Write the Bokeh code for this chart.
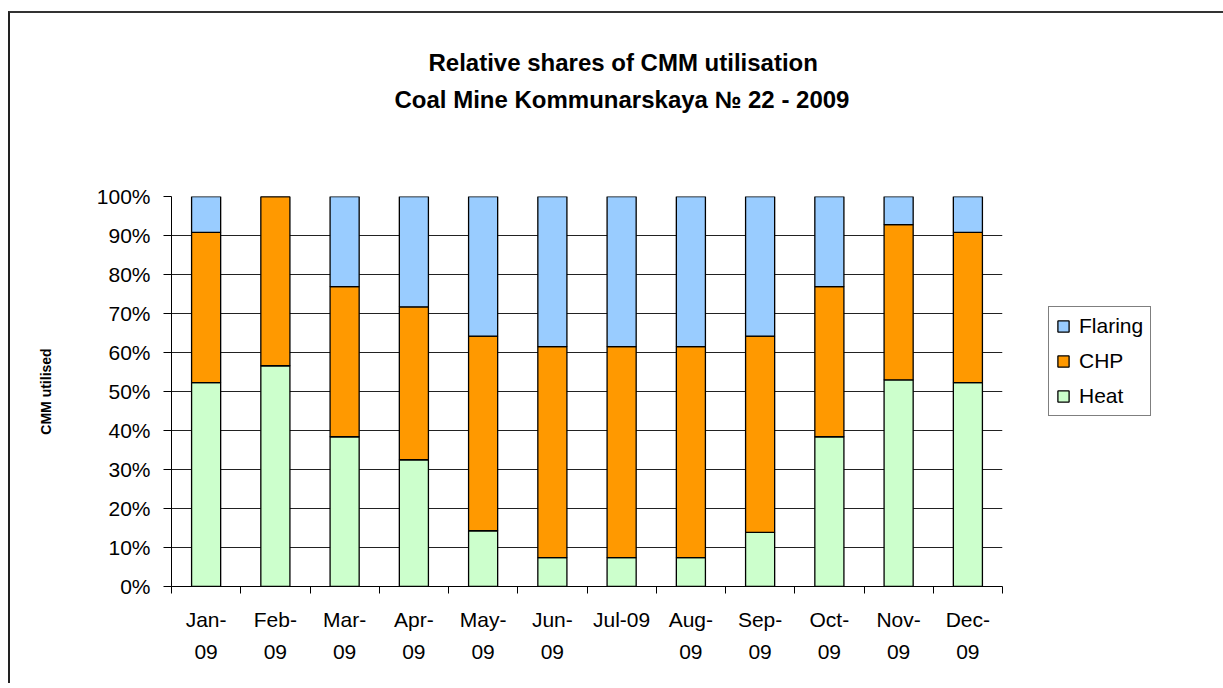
from bokeh.plotting import figure
from bokeh.models import (ColumnDataSource, FixedTicker, NumeralTickFormatter,
                          Legend, LegendItem, Range1d, Title, LinearAxis)
from bokeh.embed import file_html
from bokeh.resources import INLINE

months = ["Jan-\n09", "Feb-\n09", "Mar-\n09", "Apr-\n09", "May-\n09", "Jun-\n09",
          "Jul-09", "Aug-\n09", "Sep-\n09", "Oct-\n09", "Nov-\n09", "Dec-\n09"]
heat = [52.3, 56.6, 38.4, 32.5, 14.3, 7.4, 7.4, 7.4, 13.9, 38.4, 53.0, 52.3]
chp = [38.5, 43.4, 38.5, 39.2, 49.9, 54.1, 54.1, 54.1, 50.3, 38.5, 39.8, 38.5]
flaring = [9.2, 0.0, 23.1, 28.3, 35.8, 38.5, 38.5, 38.5, 35.8, 23.1, 7.2, 9.2]
series = ["Heat", "CHP", "Flaring"]
colors = ["#CCFFCC", "#FF9900", "#99CCFF"]
y_ticks = [0, 0.1, 0.2, 0.3, 0.4, 0.5, 0.6, 0.7, 0.8, 0.9, 1.0]
title_lines = ["Relative shares of CMM utilisation",
               "Coal Mine Kommunarskaya \u2116 22 - 2009"]

xpos = [i + 0.5 for i in range(len(months))]
src = ColumnDataSource(dict(
    x=xpos,
    Heat=[v / 100 for v in heat],
    CHP=[v / 100 for v in chp],
    Flaring=[v / 100 for v in flaring],
))

FONT = "Liberation Sans"

p = figure(frame_width=831, frame_height=390, output_backend="svg", toolbar_location=None,
           x_range=Range1d(0, len(months)), y_range=Range1d(0, 1),
           min_border_left=161, min_border_right=0, min_border_top=183,
           min_border_bottom=97)
p.styles = {"border-top": "2px solid #333333", "border-left": "2px solid #222222",
            "margin-left": "8px", "margin-top": "11px"}
p.outline_line_color = None
p.background_fill_color = "white"
p.border_fill_color = "white"

rs = p.vbar_stack(series, x="x", width=0.42, source=src, fill_color=colors,
                  line_color="black", line_width=1.3)

# grid
p.xgrid.visible = False
p.ygrid.ticker = FixedTicker(ticks=y_ticks)
p.ygrid.grid_line_color = "#222222"
p.ygrid.grid_line_width = 1
p.ygrid.level = "underlay"

# y axis
p.yaxis.ticker = FixedTicker(ticks=y_ticks)
p.yaxis.formatter = NumeralTickFormatter(format="0%")
p.yaxis.major_tick_in = 0
p.yaxis.major_tick_out = 8
p.yaxis.minor_tick_out = 0
p.yaxis.minor_tick_in = 0
p.yaxis.major_label_standoff = 13
p.yaxis.major_label_text_font = FONT
p.yaxis.major_label_text_font_size = "21px"
p.yaxis.major_label_text_color = "black"
p.yaxis.axis_line_color = "black"
p.yaxis.major_tick_line_color = "black"
p.yaxis.axis_label = "CMM utilised"
p.yaxis.axis_label_text_font = FONT
p.yaxis.axis_label_text_font_style = "bold"
p.yaxis.axis_label_text_font_size = "14px"
p.yaxis.axis_label_text_color = "black"
p.yaxis.axis_label_standoff = 40

# x axis
p.xaxis.ticker = FixedTicker(ticks=xpos, minor_ticks=list(range(len(months) + 1)))
p.xaxis.major_label_overrides = {x: m for x, m in zip(xpos, months)}
p.xaxis.major_tick_in = 0
p.xaxis.major_tick_out = 0
p.xaxis.minor_tick_in = 0
p.xaxis.minor_tick_out = 7
p.xaxis.minor_tick_line_color = "black"
p.xaxis.axis_line_color = "black"
p.xaxis.major_label_standoff = 14
p.xaxis.major_label_text_font = FONT
p.xaxis.major_label_text_font_size = "21px"
p.xaxis.major_label_text_color = "black"
p.xaxis.major_label_text_line_height = 1.4

# blank spacer between plot area and the title block (one white tick, no label)
spacer = LinearAxis(ticker=FixedTicker(ticks=[0.0]), axis_line_color=None,
                    major_tick_in=0, major_tick_out=80, minor_tick_in=0,
                    minor_tick_out=0, major_label_standoff=0,
                    major_label_overrides={0.0: ""},
                    major_label_text_font_size="1px",
                    major_tick_line_color="white", minor_tick_line_color="white")
p.add_layout(spacer, "above")

# title: two lines, the first added sits nearest the frame
p.add_layout(Title(text=title_lines[1], align="left", offset=223, standoff=8,
                   text_font=FONT, text_font_size="24px", text_font_style="bold",
                   text_color="black"), "above")
p.add_layout(Title(text=title_lines[0], align="left", offset=257, standoff=8,
                   text_font=FONT, text_font_size="24px", text_font_style="bold",
                   text_color="black"), "above")

# legend
legend = Legend(items=[LegendItem(label="Flaring", renderers=[rs[2]]),
                       LegendItem(label="CHP", renderers=[rs[1]]),
                       LegendItem(label="Heat", renderers=[rs[0]])],
                location=(46, 170), orientation="vertical",
                border_line_color="black", border_line_width=1,
                background_fill_color="white", background_fill_alpha=1,
                padding=7, spacing=11, margin=0,
                glyph_width=14, glyph_height=14, label_standoff=9,
                label_height=23, label_text_font=FONT, label_text_font_size="21px",
                label_text_color="black")
p.add_layout(legend, "right")

open("out.html", "w").write(file_html(p, INLINE))
